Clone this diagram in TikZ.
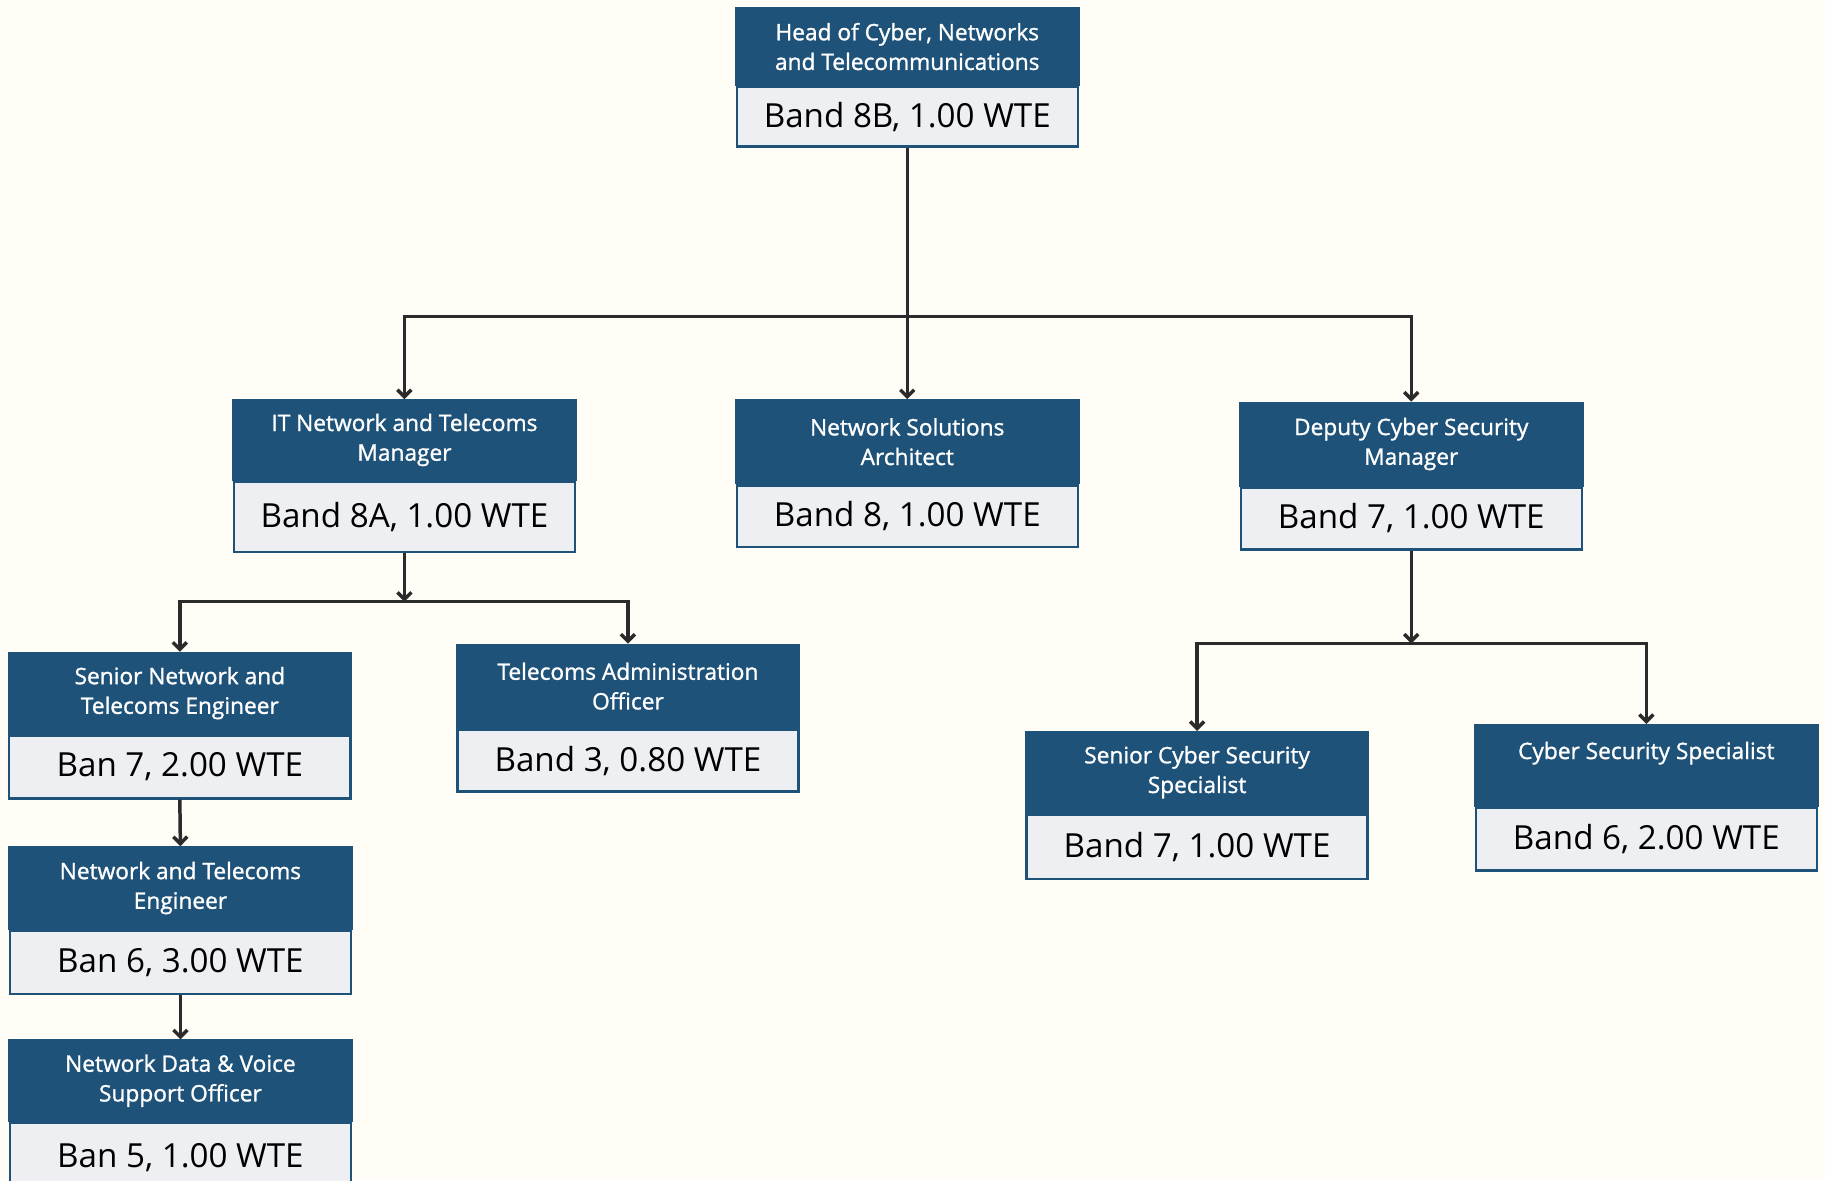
\documentclass[tikz,border=0pt]{standalone}
\usepackage{fontspec}
\setmainfont{Open Sans}
\newfontfamily\hdrfont[FakeBold=1.2]{Open Sans}
\usetikzlibrary{arrows.meta}
\definecolor{bg}{RGB}{255,253,246}
\definecolor{hdr}{RGB}{30,82,121}
\definecolor{bodyfill}{RGB}{238,239,242}
\definecolor{conncol}{RGB}{43,43,43}
\newcommand{\orgcard}[7]{%
  \node[hdrbox, minimum height=#4pt] (#1) at (#2,#3) {#6};
  \node[bodybox, minimum height=#5pt] (#1b) at (#1.south) {#7};
}
\begin{document}
\begin{tikzpicture}[x=1pt,y=-1pt,
  hdrbox/.style={fill=hdr, draw=hdr, line width=1pt, minimum width=295pt, inner sep=0pt,
    text=white, align=center, font=\hdrfont\fontsize{19.5}{25.5}\selectfont, anchor=north},
  bodybox/.style={fill=bodyfill, draw=hdr, line width=2pt, minimum width=293pt, inner sep=0pt,
    text=black, font=\fontsize{28.5}{31}\selectfont, anchor=north},
  conn/.style={draw=conncol, line width=3pt, -{Straight Barb[length=6pt,width=12pt]}},
  plain/.style={draw=conncol, line width=3pt}]
\fill[bg] (0,0) rectangle (1568,1014);
\useasboundingbox (0,0) rectangle (1568,1014);

\orgcard{head}{779.5}{6}{67}{51}{Head of Cyber, Networks\\and Telecommunications}{Band 8B, 1.00 WTE}
\orgcard{itm}{347.5}{343}{69}{60}{IT Network and Telecoms\\Manager}{Band 8A, 1.00 WTE}
\orgcard{nsa}{779.5}{343}{72}{53}{Network Solutions\\Architect}{Band 8, 1.00 WTE}
\orgcard{dcsm}{1212.5}{345}{72}{53}{Deputy Cyber Security\\Manager}{Band 7, 1.00 WTE}
\orgcard{snte}{154.5}{560}{70}{54}{Senior Network and\\Telecoms Engineer}{Ban 7, 2.00 WTE}
\orgcard{tao}{539.5}{553}{72}{53}{Telecoms Administration\\Officer}{Band 3, 0.80 WTE}
\orgcard{nte}{155}{727}{71}{54}{Network and Telecoms\\Engineer}{Ban 6, 3.00 WTE}
\orgcard{ndv}{155}{893}{70}{60}{Network Data \& Voice\\Support Officer}{Ban 5, 1.00 WTE}
\orgcard{scss}{1028.5}{628}{70}{55}{Senior Cyber Security\\Specialist}{Band 7, 1.00 WTE}
\orgcard{css}{1414.5}{622}{70}{54}{Cyber Security Specialist\\\mbox{}}{Band 6, 2.00 WTE}

\coordinate (j1) at (779.5,272);
\draw[plain] (headb.south) -- (j1);
\draw[conn] (j1) -| (itm.north);
\draw[conn] (j1) -- (nsa.north);
\draw[conn] (j1) -| (dcsm.north);

\coordinate (j2) at (347.5,517);
\draw[conn] (itmb.south) -- (j2);
\draw[conn] (j2) -| (snte.north);
\draw[conn] (j2) -| (tao.north);

\draw[conn] (snteb.south) -- (nte.north);
\draw[conn] (nteb.south) -- (ndv.north);

\coordinate (j3) at (1212.5,553);
\draw[conn] (dcsmb.south) -- (j3);
\draw[conn] (j3) -| (scss.north);
\draw[conn] (j3) -| (css.north);
\end{tikzpicture}
\end{document}
